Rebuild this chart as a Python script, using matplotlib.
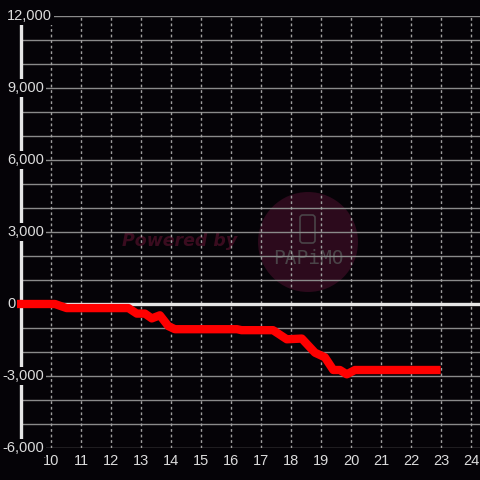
import matplotlib
matplotlib.use("Agg")
import matplotlib.pyplot as plt
import matplotlib.transforms as mtrans
from matplotlib.patches import Ellipse, FancyBboxPatch

hours = [9, 10.13, 10.52, 12.58, 12.86, 13.13, 13.36, 13.63, 13.91, 14.13, 16.2, 16.35,
         17.4, 17.86, 18.36, 18.8, 19.13, 19.41, 19.63, 19.86, 20.13, 22.85]
values = [0, 0, -170, -170, -400, -400, -600, -470, -920, -1050, -1050, -1090,
          -1090, -1470, -1440, -2030, -2220, -2750, -2750, -2930, -2750, -2750]
x_ticks = list(range(10, 25))
y_label_values = [12000, 9000, 6000, 3000, 0, -3000, -6000]
y_grid = list(range(-6000, 12001, 1000))

BG = "#050307"
fig = plt.figure(figsize=(4.8, 4.8), dpi=100, facecolor=BG)
ax = fig.add_axes([21/480, 32/480, 459/480, 432/480], facecolor=BG)
ax.set_xlim(9, 24.3)
ax.set_ylim(-6000, 12000)
for s in ax.spines.values():
    s.set_visible(False)
ax.set_xticks([]); ax.set_yticks([])

# watermark
circ = Ellipse((308/480, 1-242/480), 100/480, 100/480, transform=fig.transFigure,
               facecolor="#2c0a1c", edgecolor="none", zorder=0.5)
ax.add_patch(circ)
ax.text(180/480, 1-241/480, "Powered by", transform=fig.transFigure, ha="center", va="center",
        fontsize=12.5, fontweight="bold", fontstyle="italic", color="#3a0c1f", zorder=0.6)
phone = FancyBboxPatch((300/480, 1-243/480), 15/480, 28/480, boxstyle="round,pad=0,rounding_size=0.006",
                       transform=fig.transFigure, facecolor="none", edgecolor="#4a4448", lw=1.2, zorder=0.6)
ax.add_patch(phone)
ax.text(308/480, 1-258/480, "PAPiMO", transform=fig.transFigure, ha="center", va="center",
        fontsize=14, color="#4a4448", family="DejaVu Sans Mono", zorder=0.6)

# grid
for yv in y_grid:
    ax.axhline(yv, color="#8a8a8a", lw=1, zorder=1)
for xv in x_ticks:
    ax.axvline(xv, color="#a0a0a0", lw=1, ls=(0, (2, 2)), zorder=1)

ax.axhline(0, color="#e6e6e6", lw=2.4, zorder=2)
ax.axvline(9, color="#e6e6e6", lw=2.4, zorder=2, clip_on=False)

ax.plot(hours, values, color="#ff0000", lw=6, solid_capstyle="projecting",
        solid_joinstyle="round", zorder=3, clip_on=False)

ytrans = mtrans.blended_transform_factory(fig.transFigure, ax.transData)
for yv in y_label_values:
    xpx = 2 if yv < 0 else 7
    ax.text(xpx/480, yv, f"{yv:,}", transform=ytrans,
            ha="left", va="center", fontsize=10.5, color="#dcdcdc", family="Liberation Sans",
            bbox=dict(facecolor=BG, edgecolor="none", pad=1.5), zorder=5, clip_on=False)

xtrans = mtrans.blended_transform_factory(ax.transData, fig.transFigure)
for xv in x_ticks:
    ax.text(xv, 1-461/480, str(xv), transform=xtrans,
            ha="center", va="center", fontsize=10.5, color="#dcdcdc", family="Liberation Sans", clip_on=False)

fig.savefig("out.png", dpi=100, facecolor=BG)
